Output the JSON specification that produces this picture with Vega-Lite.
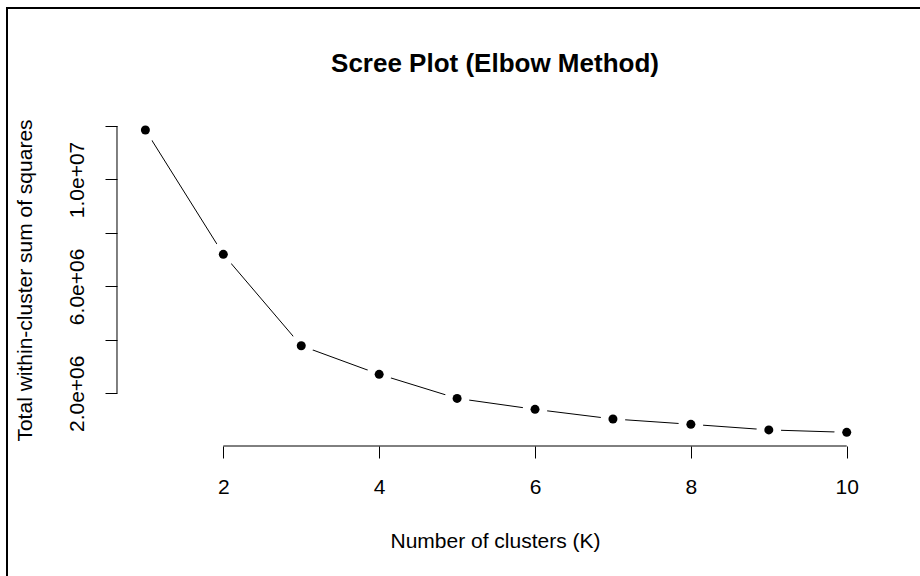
{
  "$schema": "https://vega.github.io/schema/vega-lite/v6.json",
  "width": 915,
  "height": 570,
  "autosize": {"type": "none"},
  "padding": {"left": 7, "top": 8, "right": 0, "bottom": 0},
  "background": "white",
  "config": {
    "view": {"stroke": "#000", "strokeWidth": 2, "fill": "white"},
    "font": "Liberation Sans",
    "axisX": {
      "domain": false,
      "grid": false,
      "offset": -132,
      "tickSize": 12,
      "tickColor": "#000",
      "tickWidth": 1,
      "labelFont": "Liberation Sans",
      "labelFontSize": 21,
      "labelColor": "#000",
      "labelBaseline": "alphabetic",
      "labelPadding": 35,
      "labelFlush": false,
      "labelOverlap": false,
      "titleFont": "Liberation Sans",
      "titleFontSize": 21,
      "titleFontWeight": "normal",
      "titleColor": "#000",
      "titleX": 488,
      "titleY": 101,
      "titleAlign": "center",
      "titleBaseline": "alphabetic"
    },
    "axisY": {
      "domain": false,
      "grid": false,
      "offset": -110,
      "tickSize": 12,
      "tickColor": "#000",
      "tickWidth": 1,
      "labelFont": "Liberation Sans",
      "labelFontSize": 21,
      "labelColor": "#000",
      "labelAngle": -90,
      "labelAlign": "center",
      "labelBaseline": "alphabetic",
      "labelPadding": 22,
      "labelFlush": false,
      "labelOverlap": false,
      "titleFont": "Liberation Sans",
      "titleFontSize": 21,
      "titleFontWeight": "normal",
      "titleColor": "#000",
      "titleAngle": -90,
      "titleX": -86,
      "titleY": 272,
      "titleAlign": "center",
      "titleBaseline": "alphabetic"
    }
  },
  "title": {
    "text": "Scree Plot (Elbow Method)",
    "font": "Liberation Sans",
    "fontSize": 26,
    "fontWeight": "bold",
    "color": "#000",
    "anchor": "middle",
    "frame": "group",
    "orient": "top",
    "baseline": "alphabetic",
    "offset": -90,
    "dx": 30.5
  },
  "data": {
    "values": [
      {"k": 1, "wss": 11850000},
      {"k": 2, "wss": 7200000},
      {"k": 3, "wss": 3780000},
      {"k": 4, "wss": 2710000},
      {"k": 5, "wss": 1810000},
      {"k": 6, "wss": 1400000},
      {"k": 7, "wss": 1040000},
      {"k": 8, "wss": 840000},
      {"k": 9, "wss": 630000},
      {"k": 10, "wss": 540000}
    ]
  },
  "layer": [
    {
      "mark": {"type": "line", "color": "#000", "strokeWidth": 1},
      "encoding": {
        "x": {"field": "k", "type": "quantitative", "title": "Number of clusters (K)", "scale": {"domain": [-0.776, 10.966], "zero": false, "nice": false}, "axis": {"values": [2, 4, 6, 8, 10], "format": "d"}},
        "y": {"field": "wss", "type": "quantitative", "title": "Total within-cluster sum of squares", "scale": {"domain": [-4910000, 16415000], "zero": false, "nice": false}, "axis": {"values": [2000000, 4000000, 6000000, 8000000, 10000000, 12000000], "labelExpr": "datum.value == 2000000 ? '2.0e+06' : datum.value == 6000000 ? '6.0e+06' : datum.value == 10000000 ? '1.0e+07' : ''"}}
      }
    },
    {
      "mark": {"type": "point", "filled": true, "shape": "circle", "size": 605, "color": "white", "opacity": 1},
      "encoding": {
        "x": {"field": "k", "type": "quantitative", "title": "Number of clusters (K)", "scale": {"domain": [-0.776, 10.966], "zero": false, "nice": false}, "axis": {"values": [2, 4, 6, 8, 10], "format": "d"}},
        "y": {"field": "wss", "type": "quantitative", "title": "Total within-cluster sum of squares", "scale": {"domain": [-4910000, 16415000], "zero": false, "nice": false}, "axis": {"values": [2000000, 4000000, 6000000, 8000000, 10000000, 12000000], "labelExpr": "datum.value == 2000000 ? '2.0e+06' : datum.value == 6000000 ? '6.0e+06' : datum.value == 10000000 ? '1.0e+07' : ''"}}
      }
    },
    {
      "mark": {"type": "point", "filled": true, "shape": "circle", "size": 81, "color": "#000", "opacity": 1},
      "encoding": {
        "x": {"field": "k", "type": "quantitative", "title": "Number of clusters (K)", "scale": {"domain": [-0.776, 10.966], "zero": false, "nice": false}, "axis": {"values": [2, 4, 6, 8, 10], "format": "d"}},
        "y": {"field": "wss", "type": "quantitative", "title": "Total within-cluster sum of squares", "scale": {"domain": [-4910000, 16415000], "zero": false, "nice": false}, "axis": {"values": [2000000, 4000000, 6000000, 8000000, 10000000, 12000000], "labelExpr": "datum.value == 2000000 ? '2.0e+06' : datum.value == 6000000 ? '6.0e+06' : datum.value == 10000000 ? '1.0e+07' : ''"}}
      }
    },
    {
      "data": {"values": [{"from": 2, "to": 10, "level": 28000}]},
      "mark": {"type": "rule", "color": "#000", "strokeWidth": 1},
      "encoding": {
        "x": {"field": "from", "type": "quantitative", "title": "Number of clusters (K)", "scale": {"domain": [-0.776, 10.966], "zero": false, "nice": false}, "axis": {"values": [2, 4, 6, 8, 10], "format": "d"}},
        "x2": {"field": "to"},
        "y": {"field": "level", "type": "quantitative", "title": "Total within-cluster sum of squares", "scale": {"domain": [-4910000, 16415000], "zero": false, "nice": false}, "axis": {"values": [2000000, 4000000, 6000000, 8000000, 10000000, 12000000], "labelExpr": "datum.value == 2000000 ? '2.0e+06' : datum.value == 6000000 ? '6.0e+06' : datum.value == 10000000 ? '1.0e+07' : ''"}}
      }
    },
    {
      "data": {"values": [{"pos": 0.6355, "from": 2000000, "to": 12000000}]},
      "mark": {"type": "rule", "color": "#000", "strokeWidth": 1},
      "encoding": {
        "x": {"field": "pos", "type": "quantitative", "title": "Number of clusters (K)", "scale": {"domain": [-0.776, 10.966], "zero": false, "nice": false}, "axis": {"values": [2, 4, 6, 8, 10], "format": "d"}},
        "y": {"field": "from", "type": "quantitative", "title": "Total within-cluster sum of squares", "scale": {"domain": [-4910000, 16415000], "zero": false, "nice": false}, "axis": {"values": [2000000, 4000000, 6000000, 8000000, 10000000, 12000000], "labelExpr": "datum.value == 2000000 ? '2.0e+06' : datum.value == 6000000 ? '6.0e+06' : datum.value == 10000000 ? '1.0e+07' : ''"}},
        "y2": {"field": "to"}
      }
    }
  ]
}
